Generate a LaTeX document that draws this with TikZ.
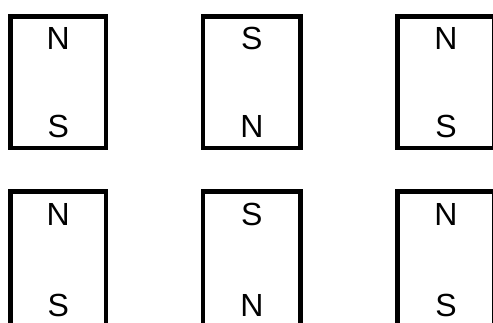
\documentclass[tikz,border=0pt]{standalone}
\usepackage{fontspec}
\setmainfont{Liberation Sans}
\tikzset{
  magnetbox/.style={draw=black,line width=4.5pt,fill=white},
  polelabel/.style={font=\fontsize{32}{32}\selectfont,inner sep=0pt,anchor=center}
}

\begin{document}
\begin{tikzpicture}[x=1pt,y=-1pt]
\useasboundingbox (0,0) rectangle (493,322);
% top row
\draw[magnetbox] (10.3,16.3) rectangle (106,148);
\draw[magnetbox] (203.2,16.3) rectangle (300.5,148);
\draw[magnetbox] (397.3,16.3) rectangle (494.5,148);
\node[polelabel] (tn1) at (58.2,38) {N};
\node[polelabel] (ts1) at (58.2,126) {S};
\node[polelabel] (ts2) at (251.9,38) {S};
\node[polelabel] (tn2) at (251.9,126) {N};
\node[polelabel] (tn3) at (446,38) {N};
\node[polelabel] (ts3) at (446,126) {S};
% bottom row, cut off by the edge
\draw[magnetbox] (10.3,191.3) rectangle (106,340);
\draw[magnetbox] (203.2,191.3) rectangle (300.5,340);
\draw[magnetbox] (397.3,191.3) rectangle (494.5,340);
\node[polelabel] (bn1) at (58.2,214) {N};
\node[polelabel] (bs1) at (58.2,305) {S};
\node[polelabel] (bs2) at (251.9,214) {S};
\node[polelabel] (bn2) at (251.9,305) {N};
\node[polelabel] (bn3) at (446,214) {N};
\node[polelabel] (bs3) at (446,305) {S};
\end{tikzpicture}
\end{document}
